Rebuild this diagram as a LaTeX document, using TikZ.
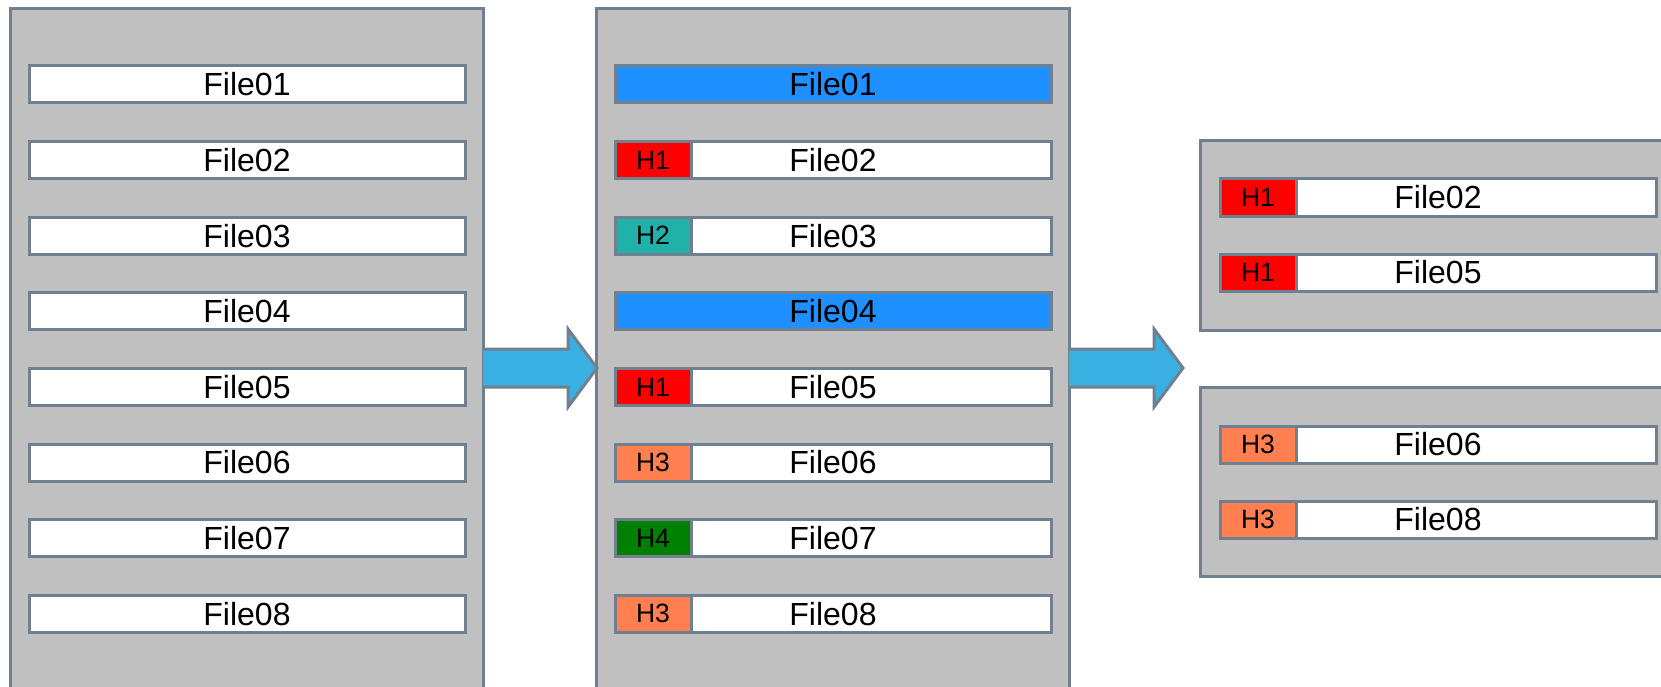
\documentclass[tikz,border=0pt]{standalone}
\usepackage{fontspec}
\setmainfont{Liberation Sans}
\definecolor{panelgray}{HTML}{C0C0C0}
\definecolor{edge}{HTML}{708090}
\definecolor{arrowblue}{HTML}{3AB0E2}
\definecolor{fblue}{HTML}{1E90FF}
\definecolor{hred}{HTML}{FF0000}
\definecolor{hteal}{HTML}{20B2AA}
\definecolor{hcoral}{HTML}{FF7F50}
\definecolor{hgreen}{HTML}{008000}
\begin{document}
\begin{tikzpicture}[x=1pt,y=-1pt,
  panel/.style={draw=edge, fill=panelgray, line width=3pt, rectangle, inner sep=0pt, outer sep=0pt, anchor=north west},
  filebox/.style={draw=edge, fill=white, line width=3pt, rectangle, inner sep=0pt, outer sep=0pt, anchor=north west,
    minimum width=436pt, minimum height=37pt, font=\fontsize{32pt}{37pt}\selectfont},
  hbox/.style={draw=edge, line width=3pt, rectangle, inner sep=0pt, outer sep=0pt, anchor=north west,
    minimum width=76pt, minimum height=37pt, font=\fontsize{26.5pt}{31pt}\selectfont},
  bigarrow/.style={fill=arrowblue, draw=edge, line width=3pt, line join=miter}]
\useasboundingbox (0,0) rectangle (1661,687);
\clip (0,0) rectangle (1661,687);
% panels
\node[panel, minimum width=472.5pt, minimum height=720pt] (p1) at (10.5,9) {};
\node[panel, minimum width=473pt, minimum height=720pt] (p2) at (596,9) {};
\node[panel, minimum width=520pt, minimum height=189pt] (p3) at (1200,141) {};
\node[panel, minimum width=520pt, minimum height=189pt] (p4) at (1200,387) {};
% left files
\foreach \i in {1,...,8} {
  \node[filebox] (l\i) at (29,{66+75.6*(\i-1)}) {File0\i};
}
% middle files
\foreach \i in {1,4} {
  \node[filebox, fill=fblue] (m\i) at (615,{66+75.6*(\i-1)}) {File0\i};
}
\foreach \i/\c/\h in {2/hred/H1,3/hteal/H2,5/hred/H1,6/hcoral/H3,7/hgreen/H4,8/hcoral/H3} {
  \node[filebox] (m\i) at (615,{66+75.6*(\i-1)}) {File0\i};
  \node[hbox, fill=\c] (mh\i) at (m\i.north west) {\h};
}
% right files
\foreach \n/\y/\c/\h in {2/179/hred/H1,5/254/hred/H1,6/426/hcoral/H3,8/501/hcoral/H3} {
  \node[filebox] (r\n) at (1220,\y) {File0\n};
  \node[hbox, fill=\c] (rh\n) at (r\n.north west) {\h};
}
% arrows
\coordinate (a1) at (p1.north east |- 0,368);
\coordinate (a2) at (p2.north east |- 0,368);
\filldraw[bigarrow] (a1) ++(0,-19) -- ++(85,0) -- ++(0,-20) -- ++(29,39) -- ++(-29,39) -- ++(0,-20) -- ++(-85,0);
\filldraw[bigarrow] (a2) ++(0,-19) -- ++(85,0) -- ++(0,-20) -- ++(29,39) -- ++(-29,39) -- ++(0,-20) -- ++(-85,0);
\end{tikzpicture}
\end{document}
